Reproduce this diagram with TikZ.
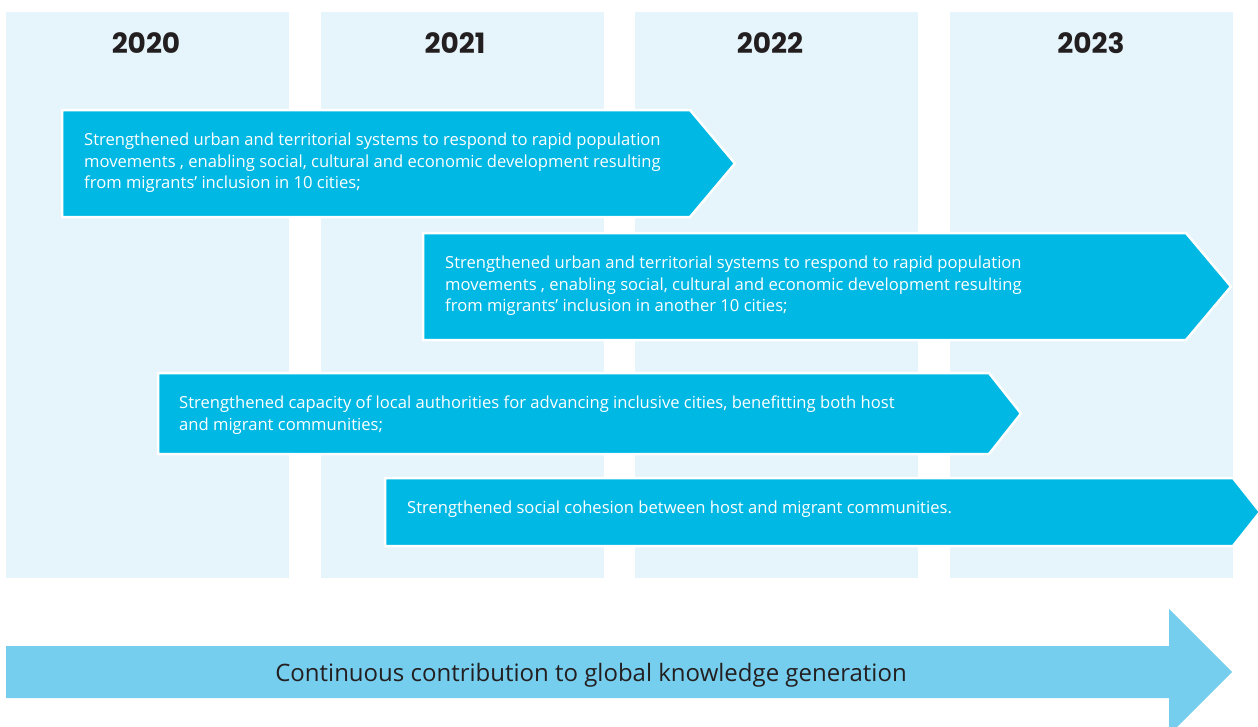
\documentclass[tikz,border=0pt]{standalone}
\usepackage{fontspec}
\setmainfont{Open Sans}
\newfontfamily\yearfont{Poppins}
\definecolor{colbg}{HTML}{E6F4FB}
\definecolor{arr}{HTML}{00B8E4}
\definecolor{lightarr}{HTML}{75CEEE}
\definecolor{ink}{HTML}{231F20}
\tikzset{
  colbox/.style={fill=colbg, draw=none},
  yearlbl/.style={text=ink, font=\yearfont\bfseries\fontsize{28}{32}\selectfont, inner sep=0pt},
  arrowbox/.style={fill=arr, draw=white, line width=2.5pt, line join=miter},
  arrtxt/.style={text=white, font=\fontsize{16.6}{21.5}\selectfont, align=left, anchor=west, inner sep=0pt},
  bigarrow/.style={fill=lightarr, draw=none},
  bigtxt/.style={text=ink, font=\fontsize{24}{28}\selectfont, inner sep=0pt}
}
\begin{document}
\begin{tikzpicture}[x=1pt,y=-1pt]
\useasboundingbox (0,0) rectangle (1258,726);
\clip (0,0) rectangle (1258,726);
% columns
\fill[colbox] (6,12) rectangle (289,578);
\fill[colbox] (321,12) rectangle (604,578);
\fill[colbox] (635,12) rectangle (918,578);
\fill[colbox] (950,12) rectangle (1233,578);
% years
\node[yearlbl] (y2020) at (146,43) {2020};
\node[yearlbl] (y2021) at (455,43) {2021};
\node[yearlbl] (y2022) at (770,43) {2022};
\node[yearlbl] (y2023) at (1091,43) {2023};
% arrows
\path[arrowbox] (62,110) -- (690,110) -- (735,163.5) -- (690,217) -- (62,217) -- cycle;
\node[arrtxt] (t1) at (84,163) {Strengthened urban and territorial systems to respond to rapid population\\movements , enabling social, cultural and economic development resulting\\from migrants’ inclusion in 10 cities;};
\path[arrowbox] (423,233) -- (1186,233) -- (1231,286.5) -- (1186,340) -- (423,340) -- cycle;
\node[arrtxt] (t2) at (445,286) {Strengthened urban and territorial systems to respond to rapid population\\movements , enabling social, cultural and economic development resulting\\from migrants’ inclusion in another 10 cities;};
\path[arrowbox] (158,373) -- (989,373) -- (1021,413.5) -- (989,454) -- (158,454) -- cycle;
\node[arrtxt] (t3) at (179,415) {Strengthened capacity of local authorities for advancing inclusive cities, benefitting both host\\and migrant communities;};
\path[arrowbox] (385,478) -- (1233,478) -- (1260,512) -- (1233,546) -- (385,546) -- cycle;
\node[arrtxt] (t4) at (407,509.5) {Strengthened social cohesion between host and migrant communities.};
% bottom arrow
\path[bigarrow] (6,646) -- (1169,646) -- (1169,609) -- (1232,672) -- (1169,735) -- (1169,698) -- (6,698) -- cycle;
\node[bigtxt] (bt) at (591,675) {Continuous contribution to global knowledge generation};
\end{tikzpicture}
\end{document}
